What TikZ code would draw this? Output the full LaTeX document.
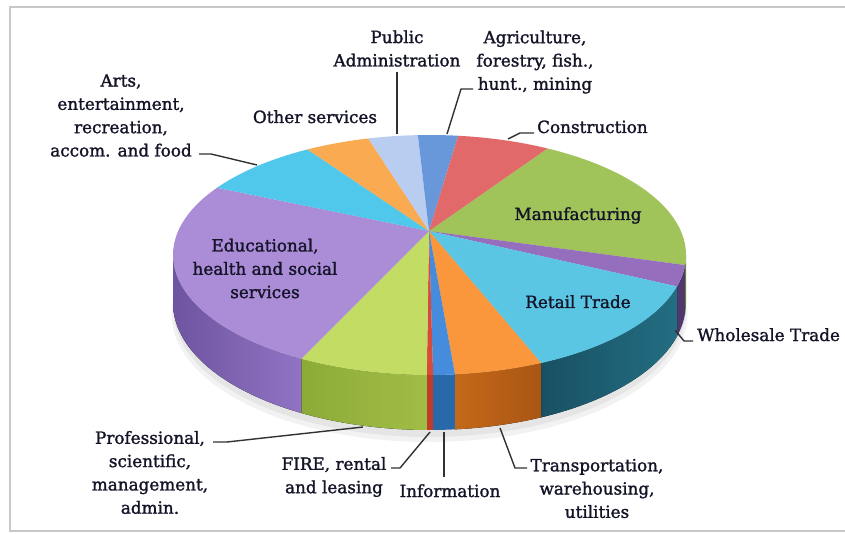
\documentclass[tikz,border=0pt]{standalone}
\usepackage{fontspec}
\setmainfont{DejaVu Serif}[FakeBold=1.5]
\usetikzlibrary{calc}
\definecolor{txt}{RGB}{20,20,40}
\definecolor{framecol}{RGB}{200,200,200}
\definecolor{leadcol}{RGB}{50,50,50}
\definecolor{cPub}{RGB}{185,205,240}
\definecolor{cAgr}{RGB}{105,152,218}
\definecolor{cCon}{RGB}{225,105,105}
\definecolor{cMan}{RGB}{160,195,90}
\definecolor{cWho}{RGB}{150,110,190}
\definecolor{cRet}{RGB}{90,198,228}
\definecolor{cTra}{RGB}{250,150,60}
\definecolor{cInf}{RGB}{70,140,220}
\definecolor{cFir}{RGB}{215,75,60}
\definecolor{cPro}{RGB}{195,220,100}
\definecolor{cEdu}{RGB}{170,140,215}
\definecolor{cArt}{RGB}{80,200,235}
\definecolor{cOth}{RGB}{250,170,80}
\definecolor{sEduL}{RGB}{110,85,160}
\definecolor{sEduR}{RGB}{145,115,195}
\definecolor{sProL}{RGB}{140,170,55}
\definecolor{sProR}{RGB}{160,190,70}
\definecolor{sFir}{RGB}{190,60,40}
\definecolor{sInf}{RGB}{40,105,170}
\definecolor{sTraL}{RGB}{195,105,25}
\definecolor{sTraR}{RGB}{170,85,20}
\definecolor{sRetL}{RGB}{35,110,130}
\definecolor{sRetR}{RGB}{25,80,100}
\definecolor{sWho}{RGB}{80,55,110}
\definecolor{sMan}{RGB}{110,140,50}
\newcommand{\pieTop}[3]{%
  \fill[#1] (P) -- ($(E)+(#2:256.5 and 120)$)
    arc[start angle=#2,end angle=#3,x radius=256.5,y radius=120] -- cycle;}
\newcommand{\pieSide}[3]{%
  \fill[#1] ($(E)+(#2:256.5 and 120)$)
    arc[start angle=#2,end angle=#3,x radius=256.5,y radius=120]
    -- ($(E2)+(#3:256.5 and 127)$)
    arc[start angle=#3,end angle=#2,x radius=256.5,y radius=127] -- cycle;}
\tikzset{
  lbl/.style={font=\fontsize{16.8}{23.3}\selectfont, text=txt, inner sep=0pt, align=center},
  leader/.style={draw=leadcol, line width=1.4pt, line join=round}
}
\begin{document}
\begin{tikzpicture}[x=1pt,y=-1pt]
\useasboundingbox (0,0) rectangle (845,534);
\clip (0,0) rectangle (845,534);
\fill[white] (0,0) rectangle (845,534);
\draw[framecol, line width=1.5pt] (860,7) -- (10,7) -- (10,531) -- (860,531);

\coordinate (E) at (429.5,255);
\coordinate (E2) at (429.5,303);
\coordinate (P) at (429,231);

% soft shadow
\fill[black, opacity=0.05] (429.5,314) ellipse[x radius=258, y radius=128];
\fill[black, opacity=0.05] (429.5,310) ellipse[x radius=256, y radius=127];

% side pieces
\pieSide{sMan}{0}{4.8}
\pieSide{sWho}{4.8}{15.2}
\pieSide{left color=sRetR,right color=sRetL}{15.2}{64.2}
\pieSide{left color=sTraL,right color=sTraR}{64.2}{84.3}
\pieSide{sInf}{84.3}{89.2}
\pieSide{sFir}{89.2}{90.6}
\pieSide{left color=sProL,right color=sProR}{90.6}{120}
\pieSide{left color=sEduL,right color=sEduR}{120}{180}

% top slices
\pieTop{cMan}{-62.6}{4.8}
\pieTop{cWho}{4.8}{15.2}
\pieTop{cRet}{15.2}{64.2}
\pieTop{cTra}{64.2}{84.3}
\pieTop{cInf}{84.3}{89.2}
\pieTop{cFir}{89.2}{90.6}
\pieTop{cPro}{90.6}{120}
\pieTop{cEdu}{120}{214.1}
\pieTop{cArt}{214.1}{241.6}
\pieTop{cOth}{241.6}{256.2}
\pieTop{cPub}{256.2}{267.4}
\pieTop{cAgr}{267.4}{276.4}
\pieTop{cCon}{276.4}{297.4}

% labels
\node[lbl] (arts) at (121,115.5) {Arts,\\entertainment,\\recreation,\\accom. and food};
\node[lbl, anchor=base] (oth) at (315,123) {Other services};
\node[lbl] (pub) at (397,48.5) {Public\\Administration};
\node[lbl] (agr) at (535,62) {Agriculture,\\forestry, fish.,\\hunt., mining};
\node[lbl, anchor=base west] (con) at (537,133) {Construction};
\node[lbl, anchor=base] (man) at (578,220) {Manufacturing};
\node[lbl, anchor=base] (ret) at (578,308) {Retail Trade};
\node[lbl, anchor=base west] (who) at (697,341) {Wholesale Trade};
\node[lbl] (edu) at (265,268.5) {Educational,\\health and social\\services};
\node[lbl] (tra) at (597,488.5) {Transportation,\\warehousing,\\utilities};
\node[lbl, anchor=base] (inf) at (450,497) {Information};
\node[lbl] (fir) at (334,477) {FIRE, rental\\and leasing};
\node[lbl] (pro) at (150,472.5) {Professional,\\scientific,\\management,\\admin.};

% leader points
\coordinate (a1) at (199,154); \coordinate (a2) at (211,154); \coordinate (a3) at (257,165);
\coordinate (p1) at (397,72);  \coordinate (p2) at (397,134);
\coordinate (g1) at (473,89);  \coordinate (g2) at (461,89);  \coordinate (g3) at (447,134);
\coordinate (c1) at (534,133); \coordinate (c2) at (520,133); \coordinate (c3) at (508,139);
\coordinate (w1) at (693,341); \coordinate (w2) at (684,341); \coordinate (w3) at (675,330);
\coordinate (t1) at (527,468); \coordinate (t2) at (515,468); \coordinate (t3) at (500,428);
\coordinate (i1) at (444,477); \coordinate (i2) at (444,432);
\coordinate (f1) at (391,468); \coordinate (f2) at (400,468); \coordinate (f3) at (430,432);
\coordinate (r1) at (213,442); \coordinate (r2) at (227,442); \coordinate (r3) at (363,427);

\draw[leader] (a1) -- (a2) -- (a3);
\draw[leader] (p1) -- (p2);
\draw[leader] (g1) -- (g2) -- (g3);
\draw[leader] (c1) -- (c2) -- (c3);
\draw[leader] (w1) -- (w2) -- (w3);
\draw[leader] (t1) -- (t2) -- (t3);
\draw[leader] (i1) -- (i2);
\draw[leader] (f1) -- (f2) -- (f3);
\draw[leader] (r1) -- (r2) -- (r3);
\end{tikzpicture}
\end{document}
